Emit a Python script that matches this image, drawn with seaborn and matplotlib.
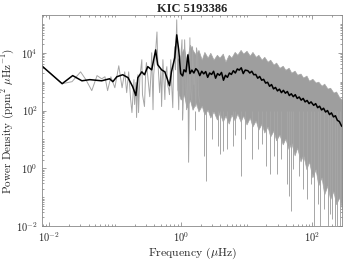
import numpy as np
import pandas as pd
import matplotlib
matplotlib.use("Agg")
import matplotlib.pyplot as plt
import seaborn as sns
from matplotlib.ticker import LogLocator, NullFormatter

# values, stored as log10(frequency / uHz) and log10(power)
# raw periodogram, sparse low-frequency part (grey line)
raw_logf = [-2.11, -1.80, -1.65, -1.52, -1.44, -1.35, -1.27, -1.20, -1.15, -1.11,
            -1.06, -1.00, -0.94, -0.89, -0.85, -0.82, -0.79, -0.76, -0.74, -0.71,
            -0.70, -0.68, -0.67, -0.65, -0.64, -0.62, -0.59, -0.58, -0.55, -0.53,
            -0.52, -0.48, -0.47, -0.45, -0.44, -0.42, -0.41, -0.39, -0.36, -0.35,
            -0.32, -0.30, -0.29, -0.27, -0.24, -0.23, -0.21, -0.20, -0.18, -0.17,
            -0.15, -0.14, -0.12, -0.11, -0.09, -0.08, -0.06, -0.05, -0.03, -0.02,
            0.00, 0.02, 0.03, 0.05, 0.06, 0.08, 0.09, 0.11, 0.12, 0.14,
            0.15, 0.17, 0.18, 0.20, 0.21, 0.23, 0.24, 0.26, 0.27, 0.29]
raw_logp = [3.55, 2.93, 3.00, 3.34, 3.07, 2.69, 3.21, 3.10, 3.17, 2.69,
            3.17, 2.79, 3.55, 2.79, 3.34, 2.62, 3.34, 2.38, 1.93, 3.07,
            2.21, 2.97, 1.76, 3.24, 1.93, 3.14, 3.76, 2.55, 2.14, 3.41,
            3.66, 2.72, 2.48, 3.34, 4.00, 2.03, 3.24, 3.76, 4.72, 3.86,
            2.62, 3.41, 2.14, 3.76, 2.38, 3.24, 3.52, 2.90, 2.72, 2.55,
            3.76, 3.07, 2.10, 3.34, 4.21, 3.41, 5.14, 3.59, 2.03, 3.07,
            3.76, 4.45, 1.69, 3.14, 4.45, 2.72, 2.03, 3.76, 0.21, 4.52,
            2.72, 2.28, 4.21, 2.90, 3.24, 2.14, 4.17, 3.86, 2.55, 2.28]

# raw periodogram, dense part: upper and lower edge of the grey band
band_logf = [-0.05, 0.00, 0.05, 0.09, 0.14, 0.18, 0.23, 0.27, 0.32, 0.36,
             0.41, 0.45, 0.50, 0.55, 0.59, 0.64, 0.68, 0.73, 0.77, 0.82,
             0.86, 0.91, 0.95, 1.00, 1.05, 1.09, 1.14, 1.18, 1.23, 1.27,
             1.32, 1.36, 1.41, 1.45, 1.50, 1.55, 1.59, 1.64, 1.68, 1.73,
             1.77, 1.82, 1.86, 1.91, 1.95, 2.00, 2.05, 2.09, 2.14, 2.18,
             2.23, 2.27, 2.32, 2.36, 2.41, 2.45]
band_top = [3.76, 3.93, 4.17, 3.69, 4.28, 4.10, 3.93, 4.10, 3.76, 4.03,
            3.83, 4.00, 3.76, 3.93, 3.83, 3.97, 3.69, 3.93, 3.83, 4.03,
            3.93, 4.10, 3.97, 4.07, 3.90, 4.03, 3.86, 3.93, 3.76, 3.86,
            3.69, 3.76, 3.59, 3.66, 3.48, 3.55, 3.41, 3.48, 3.31, 3.38,
            3.24, 3.28, 3.14, 3.21, 3.03, 3.10, 2.97, 3.00, 2.86, 2.93,
            2.76, 2.79, 2.62, 2.66, 2.45, 2.38]
band_bottom = [2.72, 2.38, 2.55, 2.10, 2.38, 2.03, 2.28, 1.97, 2.17, 1.86,
               2.03, 1.76, 1.97, 1.69, 1.93, 1.62, 1.83, 1.55, 1.86, 1.66,
               1.90, 1.62, 1.83, 1.52, 1.76, 1.45, 1.66, 1.34, 1.55, 1.24,
               1.45, 1.10, 1.31, 0.97, 1.17, 0.83, 1.03, 0.66, 0.90, 0.45,
               0.72, 0.24, 0.48, -0.03, 0.24, -0.31, -0.03, -0.59, -0.31, -0.90,
               -0.59, -1.07, -0.79, -1.24, -1.00, -1.41]

# deep single-bin dips below the band
dip_logf = [0.02, 0.21, 0.36, 0.39, 0.47, 0.56, 0.59, 0.64, 0.71, 0.79,
            0.83, 0.91, 0.98, 1.08, 1.17, 1.24, 1.30, 1.35, 1.42, 1.47,
            1.53, 1.61, 1.65, 1.68, 1.71, 1.80, 1.86, 1.92, 1.98, 2.03,
            2.08, 2.12, 2.17, 2.23, 2.27, 2.30, 2.35, 2.38, 2.42, 2.45]
dip_logp = [1.69, 1.34, 0.41, -0.45, 1.00, 0.76, 0.48, 0.59, 0.66, 0.76,
            1.17, -0.28, 1.00, 0.31, 0.66, 0.83, 0.07, -0.21, 0.41, -0.21,
            0.31, -0.55, -0.97, -1.48, -0.03, -0.28, -0.72, -1.07, -0.55, -2.5,
            -1.24, -2.5, -1.41, -2.5, -1.59, -1.76, -2.5, -2.5, -2.5, -1.76]

# smoothed spectrum (black line)
smooth_logf = [-2.11, -1.80, -1.64, -1.50, -1.38, -1.20, -1.08, -1.03, -0.97, -0.88,
               -0.80, -0.73, -0.68, -0.65, -0.59, -0.55, -0.50, -0.44, -0.38, -0.35,
               -0.29, -0.24, -0.20, -0.17, -0.14, -0.09, -0.06, -0.03, 0.00, 0.03,
               0.05, 0.08, 0.11, 0.14, 0.17, 0.20, 0.23, 0.26, 0.29, 0.32,
               0.35, 0.38, 0.41, 0.44, 0.47, 0.50, 0.53, 0.56, 0.59, 0.62,
               0.65, 0.68, 0.71, 0.74, 0.77, 0.80, 0.83, 0.86, 0.89, 0.92,
               0.95, 0.98, 1.02, 1.05, 1.08, 1.11, 1.14, 1.17, 1.20, 1.23,
               1.26, 1.29, 1.32, 1.35, 1.38, 1.41, 1.44, 1.47, 1.50, 1.53,
               1.56, 1.59, 1.62, 1.65, 1.68, 1.71, 1.74, 1.77, 1.80, 1.83,
               1.86, 1.89, 1.92, 1.95, 1.98, 2.02, 2.05, 2.08, 2.11, 2.14,
               2.17, 2.20, 2.23, 2.26, 2.29, 2.32, 2.35, 2.38, 2.41, 2.44, 2.45]
smooth_logp = [3.55, 2.93, 3.21, 3.03, 3.07, 3.03, 3.10, 3.00, 3.17, 3.24,
               3.14, 2.83, 2.52, 3.14, 3.34, 3.24, 3.52, 3.41, 4.10, 3.59,
               3.41, 3.34, 3.07, 2.86, 3.34, 3.83, 4.62, 4.10, 3.28, 3.20,
               3.41, 3.34, 3.93, 3.28, 3.40, 3.30, 3.45, 3.38, 3.21, 3.36,
               3.27, 3.35, 3.15, 3.30, 3.25, 3.36, 3.12, 3.28, 3.22, 3.32,
               3.05, 3.22, 3.15, 3.30, 3.25, 3.38, 3.30, 3.44, 3.40, 3.48,
               3.28, 3.40, 3.38, 3.30, 3.36, 3.24, 3.25, 3.12, 3.18, 3.05,
               3.08, 2.95, 2.98, 2.84, 2.90, 2.75, 2.80, 2.68, 2.74, 2.62,
               2.70, 2.60, 2.66, 2.52, 2.58, 2.48, 2.55, 2.42, 2.47, 2.36,
               2.42, 2.30, 2.35, 2.24, 2.30, 2.18, 2.24, 2.10, 2.15, 2.02,
               2.08, 1.95, 2.00, 1.86, 1.92, 1.78, 1.82, 1.66, 1.62, 1.48, 1.45]

raw = pd.DataFrame({"freq": 10.0 ** np.array(raw_logf), "power": 10.0 ** np.array(raw_logp)})
smooth = pd.DataFrame({"freq": 10.0 ** np.array(smooth_logf), "power": 10.0 ** np.array(smooth_logp)})

sns.set_style("ticks")
plt.rcParams["font.family"] = "serif"
plt.rcParams["font.serif"] = ["cmr10", "DejaVu Serif"]
plt.rcParams["mathtext.fontset"] = "cm"
plt.rcParams["axes.formatter.use_mathtext"] = True

grey = "#a6a6a6"
fig = plt.figure(figsize=(3.49, 2.62), dpi=100)
ax = fig.add_axes([0.120, 0.137, 0.860, 0.805])

ax.fill_between(10.0 ** np.array(band_logf), 10.0 ** np.array(band_bottom),
                10.0 ** np.array(band_top), color="#9e9e9e", lw=0.5, edgecolor=grey)
ax.vlines(10.0 ** np.array(dip_logf), 10.0 ** np.array(dip_logp), 100.0,
          color=grey, lw=0.7)
sns.lineplot(data=raw, x="freq", y="power", ax=ax, color=grey, lw=0.7,
             sort=False, estimator=None)
sns.lineplot(data=smooth, x="freq", y="power", ax=ax, color="black", lw=1.1,
             sort=False, estimator=None)

ax.set_xscale("log")
ax.set_yscale("log")
ax.set_xlim(0.0078, 282)
ax.set_ylim(1e-2, 2e5)
ax.set_xticks([1e-2, 1e0, 1e2])
ax.set_yticks([1e-2, 1e0, 1e2, 1e4])
ax.xaxis.set_minor_locator(LogLocator(base=10, subs=np.arange(1, 10), numticks=30))
ax.yaxis.set_minor_locator(LogLocator(base=10, subs=np.arange(1, 10), numticks=30))
ax.xaxis.set_minor_formatter(NullFormatter())
ax.yaxis.set_minor_formatter(NullFormatter())
ax.tick_params(which="both", direction="in", top=True, right=True,
               color="#777777", labelsize=7.5, width=0.5)
ax.tick_params(which="major", length=3, pad=3)
ax.tick_params(which="minor", length=1.5)
for s in ax.spines.values():
    s.set_color("#888888")
    s.set_linewidth(0.6)

ax.set_xlabel(r"Frequency ($\mu$Hz)", fontsize=8.5, labelpad=1)
ax.set_ylabel(r"Power Density (ppm$^2$ $\mu$Hz$^{-1}$)", fontsize=8, labelpad=0)
ax.set_title("KIC 5193386", fontsize=9, fontweight="bold",
             family="Liberation Serif", pad=2)

fig.savefig("out.png", dpi=100)
